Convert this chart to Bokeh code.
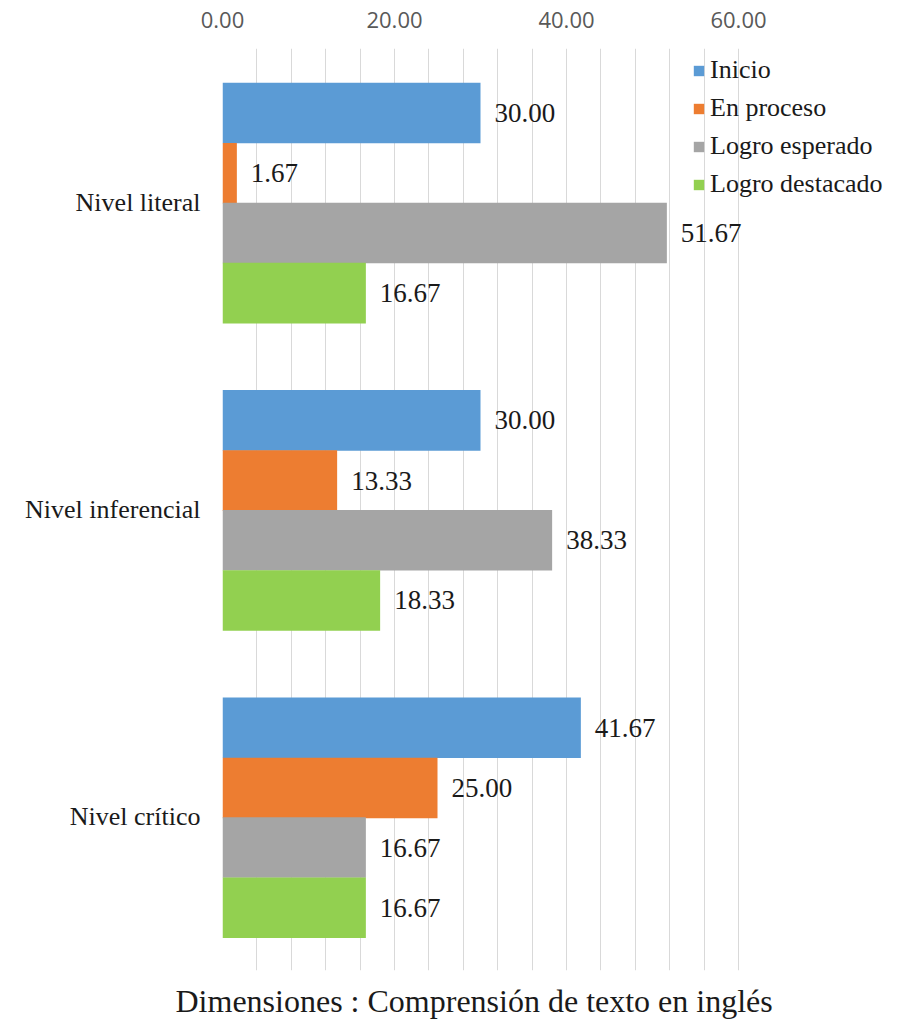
from bokeh.plotting import figure
from bokeh.models import (FactorRange, FixedTicker, Title, Legend, LegendItem,
                          ColumnDataSource, PrintfTickFormatter, Range1d)
from bokeh.transform import dodge
from bokeh.embed import file_html
from bokeh.resources import INLINE

categories = ["Nivel literal", "Nivel inferencial", "Nivel crítico"]
series = ["Inicio", "En proceso", "Logro esperado", "Logro destacado"]
inicio = [30.00, 30.00, 41.67]
en_proceso = [1.67, 13.33, 25.00]
logro_esperado = [51.67, 38.33, 16.67]
logro_destacado = [16.67, 18.33, 16.67]
colors = ["#5B9BD5", "#ED7D31", "#A5A5A5", "#92D050"]
x_ticks = [0, 20, 40, 60]
x_title = "Dimensiones : Comprensión de texto en inglés"

values = [inicio, en_proceso, logro_esperado, logro_destacado]
offsets = [0.290, 0.094, -0.100, -0.296]
bar_h = 0.197

W, H = 900, 1028
LEFT, TOP, BOTTOM = 222, 48, 58
px_per_unit = 516 / 60.0
x_end = (W - LEFT) / px_per_unit

p = figure(width=W, height=H, output_backend="svg", toolbar_location=None,
           y_range=FactorRange(factors=list(reversed(categories))),
           x_range=Range1d(0, x_end), x_axis_location="above",
           min_border_left=LEFT, min_border_right=0, min_border_top=TOP,
           min_border_bottom=BOTTOM)
p.outline_line_color = None
p.background_fill_color = "white"
p.border_fill_color = "white"

SERIF = "Liberation Serif"
TXT = "#1a1a1a"

items = []
for name, vals, col, off in zip(series, values, colors, offsets):
    src = ColumnDataSource(dict(cat=categories, val=vals,
                                lab=["%.2f" % v for v in vals]))
    r = p.hbar(y=dodge("cat", off, range=p.y_range), right="val", left=0,
               height=bar_h, source=src, fill_color=col, line_color=None)
    p.text(x="val", y=dodge("cat", off, range=p.y_range), text="lab", source=src,
           x_offset=14, text_baseline="middle", text_align="left",
           text_font=SERIF, text_font_size="27px", text_color=TXT)
    items.append(LegendItem(label=name, renderers=[r]))

# x axis (top)
xa = p.xaxis[0]
xa.ticker = FixedTicker(ticks=x_ticks)
xa.formatter = PrintfTickFormatter(format="%.2f")
xa.axis_line_color = None
xa.major_tick_line_color = None
xa.minor_tick_line_color = None
xa.major_tick_out = 0
xa.major_tick_in = 0
xa.major_label_standoff = 21
xa.major_label_text_font = "Open Sans"
xa.major_label_text_font_size = "22px"
xa.major_label_text_color = "#595959"

p.xgrid.ticker = FixedTicker(ticks=list(range(0, 61, 4)))
p.xgrid.grid_line_color = "#D9D9D9"
p.xgrid.grid_line_width = 1
p.ygrid.grid_line_color = None

ya = p.yaxis[0]
ya.axis_line_color = None
ya.major_tick_line_color = None
ya.minor_tick_line_color = None
ya.major_tick_out = 0
ya.major_tick_in = 0
ya.major_label_standoff = 22
ya.major_label_text_font = SERIF
ya.major_label_text_font_size = "26px"
ya.major_label_text_color = TXT

frame_h = H - TOP - BOTTOM
row_h, gap = 30, 8
leg_h = 4 * row_h + 3 * gap
legend = Legend(items=items, location=(470, frame_h - 7 - leg_h), orientation="vertical",
                glyph_width=13, glyph_height=13, label_height=row_h, spacing=gap,
                label_standoff=5, padding=0, margin=0,
                border_line_color=None, background_fill_alpha=0,
                label_text_font=SERIF, label_text_font_size="26px",
                label_text_color=TXT)
p.add_layout(legend, "center")

p.add_layout(Title(text=x_title, align="left", offset=-47, standoff=20,
                   text_font=SERIF, text_font_size="32px", text_font_style="normal",
                   text_color=TXT), "below")

open("out.html", "w").write(file_html(p, INLINE))
